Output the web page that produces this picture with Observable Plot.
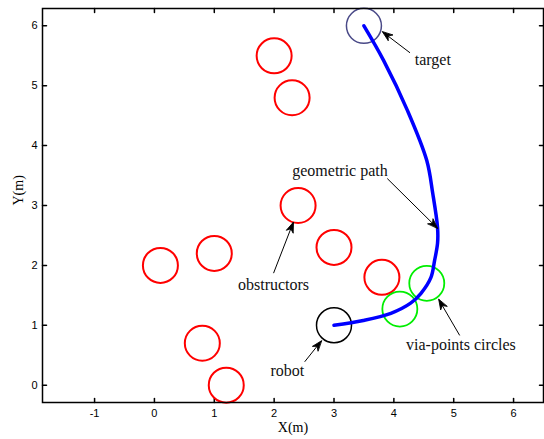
<!DOCTYPE html>
<html>
<head>
<meta charset="utf-8">
<script src="https://cdn.jsdelivr.net/npm/d3@7"></script>
<script src="https://cdn.jsdelivr.net/npm/@observablehq/plot@0.6"></script>
<style>
  body { margin: 0; background: #fff; }
  svg { display: block; }
</style>
</head>
<body>
<div id="chart"></div>
<script>
// Obstacles (red circles)
const obstacleX = [2.0, 2.3, 2.4, 1.0, 0.1, 3.0, 3.8, 0.8, 1.2];
const obstacleY = [5.5, 4.8, 3.0, 2.2, 2.0, 2.3, 1.8, 0.7, 0.0];
// Via-point circles (green)
const viaX = [4.1, 4.55];
const viaY = [1.27, 1.7];
// Robot (black) and target (dark blue)
const robotX = [3.0], robotY = [1.0];
const targetX = [3.5], targetY = [6.0];
// Geometric path (blue)
const pathX = [3.0, 3.49, 3.95, 4.28, 4.45, 4.62, 4.68, 4.73, 4.73, 4.65, 4.55, 4.23, 3.83, 3.5];
const pathY = [1.0, 1.08, 1.2, 1.37, 1.53, 1.8, 2.08, 2.37, 2.63, 3.2, 3.75, 4.58, 5.42, 6.0];
// Annotations
const noteText = ["target", "geometric path", "obstructors", "robot", "via-points circles"];
const noteX = [4.65, 3.1, 1.99, 2.22, 5.12];
const noteY = [5.43, 3.58, 1.67, 0.23, 0.67];
const arrowX1 = [4.27, 3.89, 1.99, 2.51, 5.1];
const arrowY1 = [5.55, 3.45, 1.87, 0.39, 0.83];
const arrowX2 = [3.81, 4.73, 2.32, 2.79, 4.75];
const arrowY2 = [5.9, 2.62, 2.72, 0.74, 1.43];
// Ticks
const xTicks = [-1, 0, 1, 2, 3, 4, 5, 6];
const yTicks = [0, 1, 2, 3, 4, 5, 6];

const pts = (xs, ys) => xs.map((x, i) => ({x, y: ys[i]}));
const obstacles = pts(obstacleX, obstacleY);
const vias = pts(viaX, viaY);
const robot = pts(robotX, robotY);
const target = pts(targetX, targetY);
const path = pts(pathX, pathY);
const notes = noteText.map((t, i) => ({t, x: noteX[i], y: noteY[i]}));
const arrows = arrowX1.map((x1, i) => ({
  x1, y1: arrowY1[i], x2: arrowX2[i], y2: arrowY2[i],
  angle: Math.atan2(arrowX2[i] - x1, arrowY2[i] - arrowY1[i]) * 180 / Math.PI
}));

const serif = "'Liberation Serif', 'Times New Roman', serif";
const fmt = d => String(d);

// tick shape: a short line pointing into the frame
const tickShape = {draw(context, l) { context.moveTo(0, 0); context.lineTo(0, -l); }};
// filled arrow head, tip at the end of the vector
const headShape = {draw(context, l) {
  context.moveTo(0, -l);
  context.lineTo(-3.6, 0);
  context.lineTo(0, -l * 0.3);
  context.lineTo(3.6, 0);
  context.closePath();
}};

const chart = Plot.plot({
  width: 544,
  height: 439,
  marginLeft: 42,
  marginRight: 1,
  marginTop: 8,
  marginBottom: 37,
  style: {fontFamily: "'Liberation Sans', Arial, sans-serif", fontSize: "11px", color: "#000", background: "#fff"},
  x: {domain: [-1.87, 6.5]},
  y: {domain: [-0.29, 6.29]},
  marks: [
    Plot.axisX({anchor: "bottom", ticks: xTicks, tickSize: 0, tickPadding: 7, tickFormat: fmt, label: null, fontSize: 11}),
    Plot.axisY({anchor: "left", ticks: yTicks, tickSize: 0, tickPadding: 5, tickFormat: fmt, label: null, fontSize: 11}),
    // inward ticks on all four sides
    Plot.vector(xTicks, {x: d => d, frameAnchor: "bottom", length: 4, rotate: 0, anchor: "start", shape: tickShape, stroke: "#000"}),
    Plot.vector(xTicks, {x: d => d, frameAnchor: "top", length: 4, rotate: 180, anchor: "start", shape: tickShape, stroke: "#000"}),
    Plot.vector(yTicks, {y: d => d, frameAnchor: "left", length: 4, rotate: 90, anchor: "start", shape: tickShape, stroke: "#000"}),
    Plot.vector(yTicks, {y: d => d, frameAnchor: "right", length: 4, rotate: -90, anchor: "start", shape: tickShape, stroke: "#000"}),
    Plot.dot(obstacles, {x: "x", y: "y", r: 17.5, stroke: "#ff0000", strokeWidth: 2}),
    Plot.dot(vias, {x: "x", y: "y", r: 17.5, stroke: "#00ee00", strokeWidth: 1.8}),
    Plot.dot(robot, {x: "x", y: "y", r: 17.5, stroke: "#000", strokeWidth: 1.5}),
    Plot.dot(target, {x: "x", y: "y", r: 17.5, stroke: "#4a4a88", strokeWidth: 1.5}),
    Plot.line(path, {x: "x", y: "y", stroke: "#0000ff", strokeWidth: 3.5, curve: "catmull-rom"}),
    Plot.link(arrows, {x1: "x1", y1: "y1", x2: "x2", y2: "y2", stroke: "#000", strokeWidth: 1}),
    Plot.vector(arrows, {x: "x2", y: "y2", rotate: "angle", length: 10, anchor: "end", shape: headShape, fill: "#000", stroke: "#000", strokeWidth: 0.8}),
    Plot.text(notes, {x: "x", y: "y", text: "t", fontFamily: serif, fontSize: 16, fill: "#111"}),
    Plot.text(["X(m)"], {frameAnchor: "bottom", dy: 29, text: d => d, fontFamily: serif, fontSize: 14}),
    Plot.text(["Y(m)"], {frameAnchor: "left", dx: -24, rotate: -90, text: d => d, fontFamily: serif, fontSize: 14}),
    Plot.frame({stroke: "#000", strokeWidth: 1.5})
  ]
});
document.getElementById("chart").appendChild(chart);
</script>
</body>
</html>
